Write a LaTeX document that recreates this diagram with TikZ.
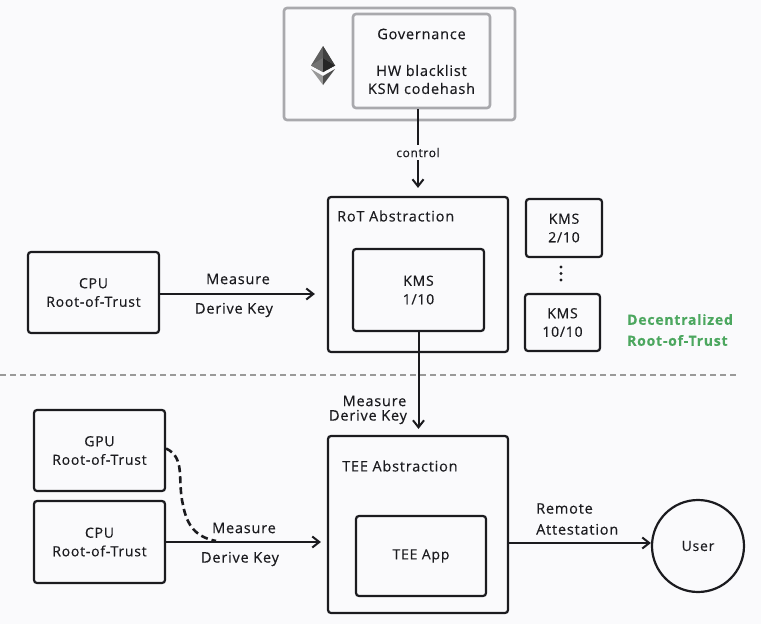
\documentclass[tikz,border=0pt]{standalone}
\usepackage{fontspec}
\setmainfont[LetterSpace=5.5,FakeBold=0.35]{Open Sans}
\usetikzlibrary{arrows.meta,calc}
\definecolor{bgc}{HTML}{FAFAFC}
\definecolor{ink}{HTML}{1B1B1F}
\definecolor{gov}{HTML}{A9A9AD}
\definecolor{grn}{HTML}{4CA75F}
\tikzset{
  boxa/.style={draw=ink,line width=2.2pt,rounded corners=3pt,inner sep=0pt,align=center,font=\fontsize{14}{18.5}\selectfont,text=ink},
  govbox/.style={boxa,draw=gov,line width=2.6pt},
  lbl/.style={font=\fontsize{14.5}{17}\selectfont,text=ink,inner sep=0pt,align=center},
  conn/.style={draw=ink,line width=2pt,-{Straight Barb[length=7pt,width=11pt,line width=2pt]}},
}
\begin{document}
\begin{tikzpicture}[x=1pt,y=-1pt]
\useasboundingbox (0,0) rectangle (761,624);
\fill[bgc] (0,0) rectangle (761,624);
% governance
\node[govbox,minimum width=231pt,minimum height=112pt] (outer) at (399.5,64) {};
\node[govbox,minimum width=137pt,minimum height=94pt] (inner) at (421.5,61) {};
\node[lbl] (govt) at (421.5,34) {Governance};
\node[lbl,font=\fontsize{14.5}{18}\selectfont] (govl) at (421.5,79.5) {HW blacklist\\KSM codehash};
% ethereum logo
\fill[gray!75!black] (323,46) -- (311,65.5) -- (323,72) -- (335,65.5) -- cycle;
\fill[black!75] (323,46) -- (323,72) -- (335,65.5) -- cycle;
\fill[black!55] (323,58) -- (311,65.5) -- (323,72) -- (335,65.5) -- cycle;
\fill[black!85] (323,58) -- (323,72) -- (335,65.5) -- cycle;
\fill[gray!80] (311,69) -- (323,85) -- (323,76) -- cycle;
\fill[gray!60!black] (335,69) -- (323,85) -- (323,76) -- cycle;
% RoT
\node[boxa,minimum width=180pt,minimum height=155pt] (rot) at (418,274.5) {};
\node[lbl,anchor=west] (rott) at (337,216) {RoT Abstraction};
\node[boxa,minimum width=131pt,minimum height=82pt] (kms1) at (418.5,290) {KMS\\1/10};
\node[boxa,minimum width=76pt,minimum height=58pt] (kms2) at (564,228) {KMS\\2/10};
\node[boxa,minimum width=75pt,minimum height=57pt] (kms3) at (562.5,322.5) {KMS\\10/10};
\fill[ink] (561,267) circle (1.6pt) (561,273.5) circle (1.6pt) (561,280) circle (1.6pt);
\node[lbl,anchor=west,font=\fontsize{14}{21}\selectfont\bfseries,text=grn,align=left] (dec) at (627,330) {Decentralized\\Root-of-Trust};
\node[boxa,minimum width=131pt,minimum height=81pt] (cpua) at (93.5,292.5) {CPU\\Root-of-Trust};
\node[lbl] (ma) at (238,279) {Measure};
\node[lbl] (da) at (234,310) {Derive Key};
% divider
\coordinate (dl) at (0,375);
\coordinate (dr) at (738,375);
\draw[draw=gray!80,line width=1.5pt,dash pattern=on 6pt off 4pt] (dl) -- (dr);
% TEE side
\node[boxa,minimum width=131pt,minimum height=81pt] (gpu) at (99.5,450.5) {GPU\\Root-of-Trust};
\node[boxa,minimum width=131pt,minimum height=82pt] (cpub) at (99.5,542) {CPU\\Root-of-Trust};
\node[boxa,minimum width=180pt,minimum height=177pt] (tee) at (418,524.5) {};
\node[lbl,anchor=west] (teet) at (342,466) {TEE Abstraction};
\node[boxa,minimum width=130pt,minimum height=80pt] (app) at (421,556) {TEE App};
\node[draw=ink,line width=2.2pt,circle,minimum size=92pt,inner sep=0pt,font=\fontsize{14}{14}\selectfont,text=ink] (user) at (698,546) {User};
\node[lbl] (mb) at (374.5,401) {Measure};
\node[lbl] (db) at (368,417) {Derive Key};
\node[lbl] (mc) at (244,528) {Measure};
\node[lbl] (dc) at (240,559) {Derive Key};
\node[lbl,anchor=west,align=left,font=\fontsize{14.5}{21}\selectfont] (re) at (536,519) {Remote\\Attestation};
% connectors
\draw[conn,shorten >=8pt] (inner.south -| rot.north) -- node[fill=bgc,inner ysep=3pt,inner xsep=1pt,text=ink,font=\fontsize{12}{13}\selectfont]{control} (rot.north);
\draw[conn,shorten >=12pt] ([yshift=-1.5pt]cpua.east) -- ([yshift=-1.5pt]cpua.east -| rot.west);
\draw[conn,shorten >=6pt] (kms1.south) -- (kms1.south |- tee.north);
\draw[conn,shorten >=6pt] (cpub.east) -- (cpub.east -| tee.west);
\draw[conn] ([yshift=3pt]user.west -| tee.east) -- ([yshift=3pt]user.west);
\coordinate (gj) at (216,541);
\draw[draw=ink,line width=2.6pt,dash pattern=on 7pt off 4pt] ([yshift=2pt]gpu.east) .. controls (186,458) and (177,480) .. (183,505) .. controls (187,526) and (196,537) .. (gj);
\end{tikzpicture}
\end{document}
